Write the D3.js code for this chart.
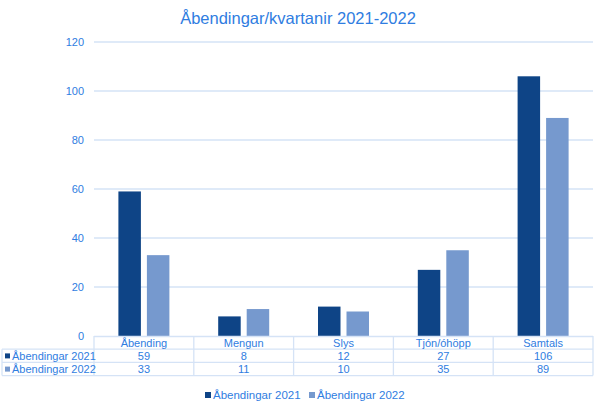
<!DOCTYPE html>
<html><head><meta charset="utf-8">
<script src="https://cdn.jsdelivr.net/npm/d3@7"></script>
<style>body{margin:0;background:#fff;font-family:Arial,"Liberation Sans",sans-serif}</style>
</head><body><svg id="c" width="602" height="411"></svg>
<script>
const categories = ["Åbending","Mengun","Slys","Tjón/óhöpp","Samtals"];
const seriesNames = ["Åbendingar 2021","Åbendingar 2022"];
const values2021 = [59,8,12,27,106];
const values2022 = [33,11,10,35,89];
const yTicks = [0,20,40,60,80,100,120];
const colors = ["#0E4486","#7699CE"];
const textColor = "#2F7DE1";
const gridColor = "#D5E3F6";

const svg = d3.select("#c");
const m = {l:94, r:593, t:42, b:336};
const x = d3.scaleBand().domain(categories).range([m.l,m.r]);
const y = d3.scaleLinear().domain([0,120]).range([m.b,m.t]);
const series = [values2021, values2022];

svg.append("text").attr("x",298).attr("y",24).attr("text-anchor","middle")
  .attr("font-size",16.5).attr("fill",textColor).text("Åbendingar/kvartanir 2021-2022");

svg.append("g").selectAll("line").data(yTicks.filter(d=>d>0)).join("line")
  .attr("x1",m.l).attr("x2",m.r).attr("y1",d=>y(d)).attr("y2",d=>y(d))
  .attr("stroke",gridColor).attr("stroke-width",1.3);
const ya = svg.append("g").attr("transform",`translate(${m.l-10},0)`)
  .call(d3.axisLeft(y).tickValues(yTicks).tickSize(0).tickPadding(0));
ya.select(".domain").remove();
ya.selectAll("text").attr("fill",textColor).attr("font-size",11).attr("font-family","Arial,'Liberation Sans',sans-serif");

const bw = 22.5, gap = 6;
series.forEach((vals,si)=>{
  svg.append("g").selectAll("rect").data(vals).join("rect")
    .attr("x",(d,i)=>x(categories[i])+x.bandwidth()/2 + (si===0 ? -gap/2-bw : gap/2))
    .attr("y",d=>y(d)).attr("width",bw).attr("height",d=>y(0)-y(d))
    .attr("fill",colors[si]);
});

const rowH = 13.2;
const tTop = m.b;
const tg = svg.append("g");
const lineCol = "#D5E3F6";
tg.append("line").attr("x1",m.l).attr("x2",m.r).attr("y1",tTop+0.5).attr("y2",tTop+0.5).attr("stroke",lineCol).attr("stroke-width",1.3);
[1,2,3].forEach(k=>{
  tg.append("line").attr("x1",2).attr("x2",m.r).attr("y1",tTop+k*rowH).attr("y2",tTop+k*rowH).attr("stroke",lineCol).attr("stroke-width",1.3);
});
const vx = categories.map(c=>x(c)).concat([m.r]);
vx.forEach(v=>{
  tg.append("line").attr("x1",v).attr("x2",v).attr("y1",tTop).attr("y2",tTop+3*rowH).attr("stroke",lineCol).attr("stroke-width",1.3);
});
tg.append("line").attr("x1",2).attr("x2",2).attr("y1",tTop+rowH).attr("y2",tTop+3*rowH).attr("stroke",lineCol).attr("stroke-width",1.3);
tg.selectAll("text.h").data(categories).join("text").attr("class","h")
  .attr("x",d=>x(d)+x.bandwidth()/2).attr("y",tTop+rowH-2.5).attr("text-anchor","middle")
  .attr("font-size",11).attr("fill",textColor).text(d=>d);
series.forEach((vals,si)=>{
  const ry = tTop+(si+2)*rowH-2.5;
  tg.append("rect").attr("x",5).attr("y",ry-6.5).attr("width",5).attr("height",5).attr("fill",colors[si]);
  tg.append("text").attr("x",12).attr("y",ry).attr("font-size",11).attr("fill",textColor).text(seriesNames[si]);
  tg.selectAll(null).data(vals).join("text")
    .attr("x",(d,i)=>x(categories[i])+x.bandwidth()/2).attr("y",ry).attr("text-anchor","middle")
    .attr("font-size",11).attr("fill",textColor).text(d=>d);
});

const lg = svg.append("g");
const lx = [205,309];
seriesNames.forEach((n,i)=>{
  lg.append("rect").attr("x",lx[i]).attr("y",392).attr("width",6).attr("height",6).attr("fill",colors[i]);
  lg.append("text").attr("x",lx[i]+8).attr("y",399).attr("font-size",11.5).attr("fill",textColor).text(n);
});
</script></body></html>
